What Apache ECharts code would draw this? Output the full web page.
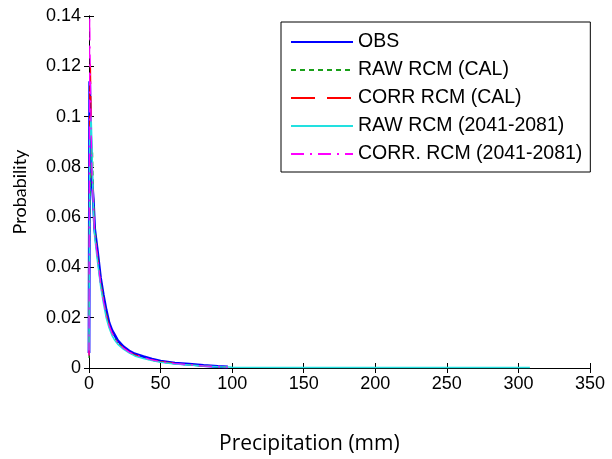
<!DOCTYPE html>
<html>
<head>
<meta charset="utf-8">
<script src="https://cdn.jsdelivr.net/npm/echarts@6/dist/echarts.min.js"></script>
<style>html,body{margin:0;padding:0;background:#fff}#c{width:612px;height:459px}</style>
</head>
<body>
<div id="c"></div>
<script>
// Precipitation bin positions (mm)
const precip = [0, 0.5, 1, 1.5, 2, 2.5, 3, 4, 6, 8, 10, 12, 14, 16, 18, 20, 24, 28, 32, 38, 44, 50, 60, 70, 80, 90, 97];
const precipTail = [100, 150, 200, 250, 308];

const seriesNames = ['OBS', 'RAW RCM (CAL)', 'CORR RCM (CAL)', 'RAW RCM (2041-2081)', 'CORR. RCM (2041-2081)'];

const obs      = [0.006, 0.114, 0.095, 0.085, 0.075, 0.071, 0.067, 0.055, 0.046, 0.036, 0.029, 0.023, 0.018, 0.015, 0.013, 0.011, 0.0085, 0.0068, 0.0056, 0.0045, 0.0035, 0.0027, 0.0019, 0.0015, 0.0010, 0.0006, 0.0004];
const rawCal   = [0.004, 0.060, 0.075, 0.080, 0.084, 0.086, 0.070, 0.056, 0.045, 0.035, 0.028, 0.022, 0.017, 0.014, 0.012, 0.010, 0.0078, 0.0062, 0.0050, 0.0040, 0.0030, 0.0024, 0.0017, 0.0012, 0.0008, 0.0005, 0.0003];
const corrCal  = [0.005, 0.110, 0.121, 0.100, 0.080, 0.072, 0.066, 0.053, 0.044, 0.034, 0.027, 0.021, 0.017, 0.014, 0.012, 0.010, 0.0080, 0.0064, 0.0052, 0.0042, 0.0032, 0.0025, 0.0018, 0.0013, 0.0008, 0.0005, 0.0003];
const rawFut   = [0.007, 0.090, 0.095, 0.100, 0.090, 0.075, 0.065, 0.052, 0.042, 0.033, 0.026, 0.020, 0.016, 0.013, 0.011, 0.0095, 0.0075, 0.0060, 0.0048, 0.0038, 0.0030, 0.0023, 0.0016, 0.0012, 0.0008, 0.0005, 0.0004];
const rawFutTail = [0.0003, 0.0002, 0.0002, 0.0002, 0.0002];
const corrFut  = [0.005, 0.140, 0.115, 0.095, 0.080, 0.072, 0.066, 0.053, 0.044, 0.034, 0.027, 0.021, 0.017, 0.014, 0.012, 0.010, 0.0080, 0.0064, 0.0052, 0.0042, 0.0032, 0.0025, 0.0018, 0.0013, 0.0008, 0.0005, 0.0003];

const xTicks = [0, 50, 100, 150, 200, 250, 300, 350];
const yTicks = [0, 0.02, 0.04, 0.06, 0.08, 0.1, 0.12, 0.14];

function pairs(xs, ys) { return xs.map((x, i) => [x, ys[i]]); }

const chart = echarts.init(document.getElementById('c'));
const font = 'Liberation Sans, Arial, sans-serif';

const mkSeries = (name, data, color, width, type, z) => ({
  name, type: 'line', data, symbol: 'none', showSymbol: false, z,
  lineStyle: { color, width, type }, itemStyle: { color },
  emphasis: { disabled: true }, animation: false
});

chart.setOption({
  animation: false,
  title: {
    text: 'Precipitation (mm)', left: 219, top: 434,
    padding: 0,
    textStyle: { fontFamily: 'Open Sans, Lato, sans-serif', fontSize: 21, fontWeight: 'normal', color: '#000' }
  },
  grid: { left: 89, right: 22, top: 16, bottom: 91, containLabel: false },
  legend: {
    orient: 'vertical', left: 281, top: 22,
    itemWidth: 62, itemHeight: 20, itemGap: 8,
    padding: [10, 8, 8, 9],
    backgroundColor: '#fff', borderColor: '#000', borderWidth: 1,
    itemStyle: { opacity: 0 },
    textStyle: { fontFamily: font, fontSize: 19.5, color: '#000' },
    data: seriesNames
  },
  xAxis: [{
    type: 'value', min: 0, max: 350, interval: 50,
    axisLine: { show: true, onZero: false, lineStyle: { color: '#000', width: 1 } },
    axisTick: { show: true, inside: true, length: 5, lineStyle: { color: '#000' } },
    axisLabel: { fontFamily: font, fontSize: 18, color: '#000', margin: 7,
      formatter: v => xTicks.includes(v) ? String(v) : '' },
    splitLine: { show: false }
  }, {
    type: 'value', position: 'top', min: 0, max: 350, interval: 50,
    axisLine: { show: true, lineStyle: { color: '#000', width: 1 } },
    axisTick: { show: true, inside: true, length: 5, lineStyle: { color: '#000' } },
    axisLabel: { show: false }, splitLine: { show: false }
  }],
  yAxis: [{
    type: 'value', min: 0, max: 0.14, interval: 0.02,
    name: 'Probability', nameLocation: 'middle', nameGap: 60,
    nameTextStyle: { fontFamily: 'Lato, Open Sans, sans-serif', fontSize: 18, color: '#000' },
    axisLine: { show: true, onZero: false, lineStyle: { color: '#000', width: 1 } },
    axisTick: { show: true, inside: true, length: 5, lineStyle: { color: '#000' } },
    axisLabel: { fontFamily: font, fontSize: 18, color: '#000', margin: 8,
      formatter: v => { const t = yTicks.find(k => Math.abs(k - v) < 1e-9); return t === undefined ? '' : String(+t.toFixed(2)); } },
    splitLine: { show: false }
  }, {
    type: 'value', position: 'right', min: 0, max: 0.14, interval: 0.02,
    axisLine: { show: true, lineStyle: { color: '#000', width: 1 } },
    axisTick: { show: true, inside: true, length: 5, lineStyle: { color: '#000' } },
    axisLabel: { show: false }, splitLine: { show: false }
  }],
  series: [
    mkSeries(seriesNames[0], pairs(precip, obs), '#0000ff', 2.8, 'solid', 2),
    mkSeries(seriesNames[1], pairs(precip, rawCal), '#1aa01a', 1.2, [5, 4], 3),
    mkSeries(seriesNames[2], pairs(precip, corrCal), '#ff0000', 1.2, [24, 12], 4),
    mkSeries(seriesNames[3], pairs(precip.concat(precipTail), rawFut.concat(rawFutTail)), '#22e0e0', 1.5, 'solid', 5),
    mkSeries(seriesNames[4], pairs(precip, corrFut), '#ff00ff', 1.2, [13, 6, 2, 6], 6)
  ]
});
</script>
</body>
</html>
